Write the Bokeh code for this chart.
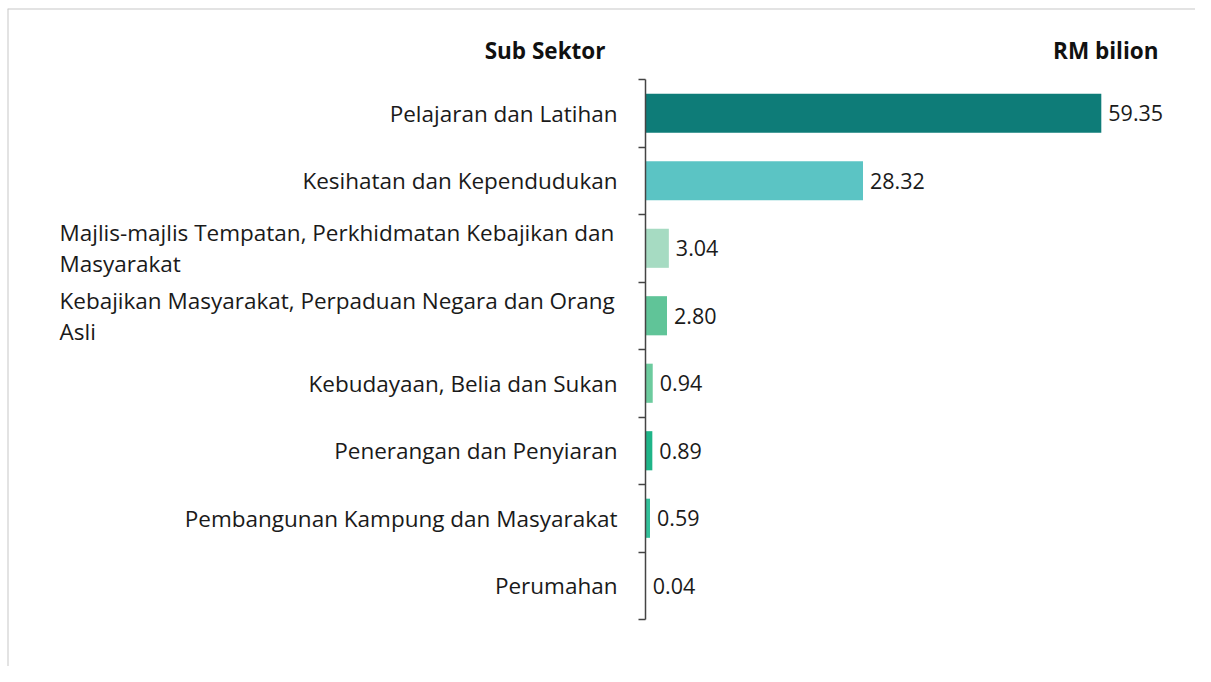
from bokeh.plotting import figure
from bokeh.models import ColumnDataSource, LinearAxis, FixedTicker, Range1d, Span
from bokeh.core.properties import value
from bokeh.embed import file_html
from bokeh.resources import INLINE

# ---- data ----
categories = [
    "Pelajaran dan Latihan",
    "Kesihatan dan Kependudukan",
    "Majlis-majlis Tempatan, Perkhidmatan Kebajikan dan\nMasyarakat",
    "Kebajikan Masyarakat, Perpaduan Negara dan Orang\nAsli",
    "Kebudayaan, Belia dan Sukan",
    "Penerangan dan Penyiaran",
    "Pembangunan Kampung dan Masyarakat",
    "Perumahan",
]
values = [59.35, 28.32, 3.04, 2.80, 0.94, 0.89, 0.59, 0.04]
value_labels = ["59.35", "28.32", "3.04", "2.80", "0.94", "0.89", "0.59", "0.04"]
colors = ["#0e7c78", "#5bc4c4", "#a6dbc2", "#60c498", "#6ccb9e", "#1fb488", "#33c09a", "#2aa87e"]
header_left = "Sub Sektor"
header_right = "RM bilion"

FONT = "Open Sans"
W, H = 1195, 666
BL, BT = 7, 8                 # left / top border offsets
FW, FH = W - BL, H - BT       # frame size
AXIS_X = 645 - BL             # frame px of the value axis line
PX_PER_UNIT = 7.68
ROW_PX = 67.5
TOP_PX = 79 - BT

n = len(categories)
ypos = [i + 0.5 for i in range(n)]
multi = ["\n" in c for c in categories]
src = ColumnDataSource(dict(
    y=ypos,
    v=values,
    zero=[0] * n,
    cat=categories,
    vl=value_labels,
    color=colors,
    align=["left" if m else "right" for m in multi],
    xoff=[-586 if m else -28 for m in multi],
))

x0 = -AXIS_X / PX_PER_UNIT
x1 = (FW - AXIS_X) / PX_PER_UNIT
ytop = -TOP_PX / ROW_PX
ybot = (FH - TOP_PX) / ROW_PX

p = figure(width=W, height=H, output_backend="svg", toolbar_location=None,
           x_range=Range1d(x0, x1), y_range=Range1d(ybot, ytop),
           x_axis_location=None, y_axis_location=None,
           min_border=0, min_border_left=BL, min_border_top=BT,
           background_fill_color="white", border_fill_color="white")
p.grid.visible = False
p.outline_line_color = None

# border lines (left & top)
p.add_layout(Span(location=x0, dimension="height", line_color="#c8c8c8", line_width=2))
p.add_layout(Span(location=ytop, dimension="width", line_color="#c8c8c8", line_width=2))

p.hbar(y="y", left="zero", right="v", height=0.58, fill_color="color",
       line_color=None, source=src)

ax = LinearAxis(fixed_location=0, ticker=FixedTicker(ticks=list(range(n + 1))))
ax.bounds = (0, n)
ax.major_tick_out = 7
ax.major_tick_in = 0
ax.minor_tick_out = 0
ax.minor_tick_in = 0
ax.major_label_overrides = {i: "" for i in range(n + 1)}
ax.axis_line_color = "#444444"
ax.axis_line_width = 1.5
ax.major_tick_line_color = "#444444"
ax.major_tick_line_width = 1.5
p.add_layout(ax, "left")

# category labels
p.text(x="zero", y="y", text="cat", x_offset="xoff", text_align="align",
       text_baseline="middle", text_font=value(FONT), text_font_size="22.5px",
       text_color="#1a1a1a", text_line_height=1.0, source=src)

# value labels
p.text(x="v", y="y", text="vl", x_offset=7, text_align="left",
       text_baseline="middle", text_font=value(FONT), text_font_size="21.5px",
       text_color="#1a1a1a", source=src)

# headers
hy = (50 - 79) / ROW_PX
p.text(x=[0], y=[hy], text=[header_left], x_offset=-40, text_align="right",
       text_baseline="middle", text_font=value(FONT), text_font_size="22.5px",
       text_font_style="bold", text_color="#111111")
p.text(x=[x1], y=[hy], text=[header_right], x_offset=-37, text_align="right",
       text_baseline="middle", text_font=value(FONT), text_font_size="22.5px",
       text_font_style="bold", text_color="#111111")

open("out.html", "w").write(file_html(p, INLINE))
